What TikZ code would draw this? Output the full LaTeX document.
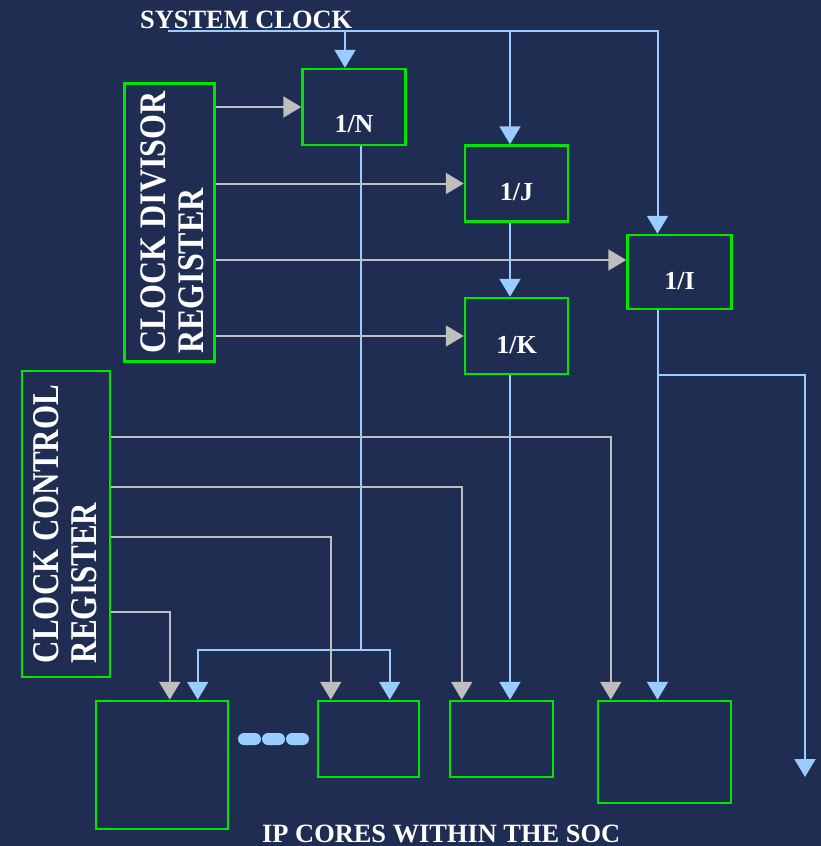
\documentclass[tikz,border=0pt]{standalone}
\usepackage{fontspec}
\usepackage{graphicx}
\setmainfont{Liberation Serif}
\usetikzlibrary{positioning,arrows.meta,calc}
\definecolor{socbg}{RGB}{31,45,82}
\definecolor{socgreen}{RGB}{0,230,0}
\definecolor{clkblue}{RGB}{153,204,255}
\definecolor{ctlgray}{RGB}{190,190,190}
\tikzstyle{regbox}=[rectangle, draw=socgreen, line width=2.5pt, rotate=90, inner sep=0pt, text=white, font=\bfseries]
\tikzstyle{divbox}=[rectangle, draw=socgreen, line width=2.5pt, inner sep=0pt, minimum width=103pt, minimum height=76pt,
text=white, font=\fontsize{26}{30}\selectfont\bfseries, text depth=0pt, text height=34pt]
\tikzstyle{corebox}=[rectangle, draw=socgreen, line width=2.5pt, inner sep=0pt, anchor=north west]
\tikzstyle{caplbl}=[text=white, font=\fontsize{26.4}{30}\selectfont\bfseries, anchor=base west, inner sep=0pt, text depth=0pt]
\tikzstyle{bline}=[-{Triangle[width=21pt,length=18pt]}, line width=2pt, draw=clkblue]
\tikzstyle{gline}=[-{Triangle[width=21pt,length=18pt]}, line width=2pt, draw=ctlgray]

\begin{document}
\begin{tikzpicture}[x=1pt, y=-1pt, node distance=0pt]

\fill[socbg] (0,0) rectangle (821,846);

% registers
    \node (divreg) [regbox, minimum width=278pt, minimum height=89pt] at (169.5,222.5)
        {\fontsize{32}{32.5}\selectfont\raisebox{0pt}[\dimexpr\height+14pt\relax][\depth]{\scalebox{1}[1.17]{\begin{tabular}{@{}l@{}}CLOCK DIVISOR\\REGISTER\end{tabular}}}};
    \node (ctrlreg) [regbox, minimum width=306pt, minimum height=88pt] at (66,524)
        {\fontsize{31}{31.5}\selectfont\raisebox{0pt}[\dimexpr\height+8pt\relax][\depth]{\scalebox{1}[1.22]{\begin{tabular}{@{}l@{}}CLOCK CONTROL\\REGISTER\end{tabular}}}};

% dividers
    \node (ndiv) [divbox, text height=51pt] at (354,107) {1/N};
    \node (jdiv) [divbox] at (516.5,183.5) {1/J};
    \node (kdiv) [divbox, below=74pt of jdiv] {1/K};
    \node (idiv) [divbox, minimum width=104pt, minimum height=74pt] at (679.5,272) {1/I};

% IP cores
    \node (corea) [corebox, minimum width=132pt, minimum height=128pt] at (94.75,699.75) {};
    \node (coreb) [corebox, minimum width=101pt, minimum height=76pt] at (316.75,699.75) {};
    \node (corec) [corebox, anchor=west, minimum width=103pt, minimum height=76pt, right=28.5pt of coreb] {};
    \node (cored) [corebox, minimum width=133pt, minimum height=102pt] at (596.75,699.75) {};

    \node (sysclk) [caplbl] at (140,28) {SYSTEM CLOCK};
    \node (iplbl) [caplbl] at (262,842) {IP CORES WITHIN THE SOC};

    \foreach \i in {0,1,2}
        \fill[clkblue, rounded corners=6pt] (238+24*\i,733) rectangle ++(23,12);

% anchors
 \coordinate (clkin) at (168,31);
 \coordinate (nin) at ([xshift=-9pt]ndiv.north);
 \coordinate (jin) at ([xshift=-6.5pt]jdiv.north);
 \coordinate (iin) at ([xshift=-22pt]idiv.north);
 \coordinate (nout) at ([xshift=7pt]ndiv.south);
 \coordinate (jout) at (jin |- jdiv.south);
 \coordinate (kin) at (jin |- kdiv.north);
 \coordinate (kout) at (jin |- kdiv.south);
 \coordinate (iout) at (iin |- idiv.south);
 \coordinate (nsplit) at ($(nout |- coreb.north)+(0,-50)$);
 \coordinate (ablue) at ([xshift=103pt]corea.north west);
 \coordinate (bblue) at ([xshift=73pt]coreb.north west);
 \coordinate (agray) at ([xshift=75pt]corea.north west);
 \coordinate (bgray) at ([xshift=14pt]coreb.north west);
 \coordinate (cgray) at ([xshift=13pt]corec.north west);
 \coordinate (dgray) at ([xshift=14pt]cored.north west);
 \coordinate (ig) at ([yshift=12pt]idiv.west);
 \coordinate (spill) at (805,777);

% clock paths
\draw[bline] (clkin) -| (iin);
\draw[bline] (nin |- clkin) -- (nin);
\draw[bline] (jin |- clkin) -- (jin);
\draw[bline] (jout) -- (kin);
\draw[bline] (kout) -- (kout |- corec.north);
\draw[bline] (iout) -- (iout |- cored.north);
\draw[bline] (iout |- kdiv.south) -| (spill);
\draw[line width=2pt, clkblue] (nout) -- (nsplit);
\draw[bline] (nsplit) -| (ablue);
\draw[bline] (nsplit) -| (bblue);

% register outputs
\draw[gline] (divreg.south |- ndiv.west) -- (ndiv.west);
\draw[gline] (divreg.south |- jdiv.west) -- (jdiv.west);
\draw[gline] (divreg.south |- ig) -- (ig);
\draw[gline] (divreg.south |- kdiv.west) -- (kdiv.west);

\draw[gline] ($(ctrlreg.south)+(0,-87)$) -| (dgray);
\draw[gline] ($(ctrlreg.south)+(0,-37)$) -| (cgray);
\draw[gline] ($(ctrlreg.south)+(0,13)$) -| (bgray);
\draw[gline] ($(ctrlreg.south)+(0,88)$) -| (agray);

\end{tikzpicture}
\end{document}
